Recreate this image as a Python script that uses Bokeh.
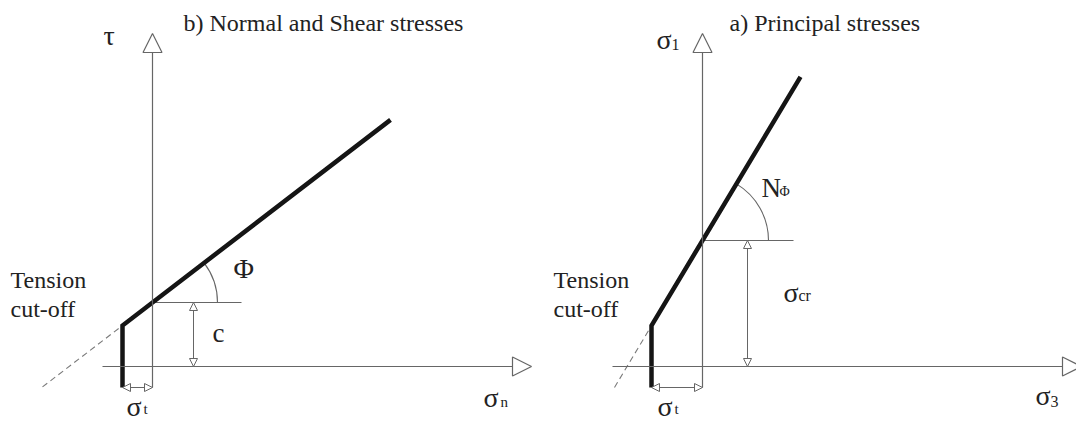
import math

from bokeh.core.properties import value
from bokeh.embed import file_html
from bokeh.layouts import row
from bokeh.models import Arrow, NormalHead, Range1d
from bokeh.plotting import figure
from bokeh.resources import INLINE

# ---------------- panel b: normal and shear stresses ----------------
nt_tension = 30.0            # tension cut-off sigma_t (left of the tau axis)
nt_cohesion = 64.0           # cohesion c
nt_phi_deg = 37.5            # friction angle phi
nt_env_x = [-30.0, 238.0]    # sigma_n extent of the failure envelope
nt_dash_x = [-110.0, -30.0]  # extrapolated envelope beyond the cut-off

# ---------------- panel a: principal stresses ----------------
ps_tension = 51.0            # tension cut-off sigma_t
ps_sigma_cr = 126.0          # uniaxial compressive strength sigma_cr
ps_n_phi = 1.67              # slope N_phi
ps_env_x = [-51.0, 98.0]
ps_dash_x = [-88.0, -51.0]

titles = ["b) Normal and Shear stresses", "a) Principal stresses"]

H = 423
ORIGIN_Y = 366
AXIS = "#666666"
INK = "#151515"
TXT = "#222222"
SERIF = value("Liberation Serif")
TEXT_LIFT = 8  # the SVG alphabetic baseline sits a little low


def make_panel(width, ox):
    p = figure(width=width, height=H,
               x_range=Range1d(-ox, width - ox),
               y_range=Range1d(-(H - ORIGIN_Y), ORIGIN_Y),
               output_backend="svg", toolbar_location=None,
               x_axis_location=None, y_axis_location=None,
               min_border=0, outline_line_color=None,
               background_fill_color="white", border_fill_color="white")
    p.grid.grid_line_color = None
    return p


def axis_arrow(p, xs, ys, xe, ye):
    head = NormalHead(size=19, fill_color="white", line_color=AXIS, line_width=1.2)
    p.add_layout(Arrow(end=head, x_start=xs, y_start=ys, x_end=xe, y_end=ye,
                       line_color=AXIS, line_width=1.2))


def dim_arrow(p, xs, ys, xe, ye):
    def head():
        return NormalHead(size=8, fill_color="white", line_color=AXIS, line_width=1)
    p.add_layout(Arrow(start=head(), end=head(), x_start=xs, y_start=ys,
                       x_end=xe, y_end=ye, line_color=AXIS, line_width=1))


def label(p, x, y, text, size, align="left"):
    p.text(x=[x], y=[y + TEXT_LIFT], text=[text], text_font=SERIF,
           text_font_size=size, text_baseline="alphabetic", text_align=align,
           text_color=TXT)


def draw_panel(p, intercept, slope, tension, env_x, dash_x, ref_len, arc_r,
               dim_x, x_axis, title, title_x):
    f = lambda s: intercept + slope * s
    bottom = -21.0

    # axes
    axis_arrow(p, x_axis[0], 0, x_axis[1], 0)
    axis_arrow(p, 0, bottom, 0, 333)

    # extrapolated envelope (dashed)
    p.line(dash_x, [f(v) for v in dash_x], line_color="#7a7a7a", line_width=1.1,
           line_dash="6 4")

    # reference horizontal at the intercept and angle arc
    p.line([0, ref_len], [intercept, intercept], line_color=AXIS, line_width=1.1)
    p.arc(x=[0], y=[intercept], radius=arc_r, start_angle=0,
          end_angle=math.atan(slope), line_color=AXIS, line_width=1.1)

    # dimension arrows
    dim_arrow(p, dim_x, 0, dim_x, intercept)
    dim_arrow(p, -tension, bottom, 0, bottom)

    # failure envelope with tension cut-off
    xs = [-tension, -tension, env_x[1]]
    ys = [bottom, f(-tension), f(env_x[1])]
    p.line(xs, ys, line_color=INK, line_width=4.5, line_join="miter")

    label(p, title_x, 336, title, "24px")


# ---------- panel b ----------
pb = make_panel(540, 152)
draw_panel(pb, nt_cohesion, math.tan(math.radians(nt_phi_deg)), nt_tension,
           nt_env_x, nt_dash_x, ref_len=89, arc_r=65, dim_x=41,
           x_axis=(-50, 379), title=titles[0], title_x=31)
label(pb, -49, 323, "τ", "28px")
label(pb, -142, 79, "Tension", "24px")
label(pb, -142, 50, "cut-off", "24px")
label(pb, 81, 90, "Φ", "28px")
label(pb, 60, 26, "c", "27px")
label(pb, 331, -39, "σ", "28px")
label(pb, 348, -43, "n", "15px")
label(pb, -26, -48, "σ", "28px")
label(pb, -9, -50, "t", "15px")

# ---------- panel a ----------
pa = make_panel(536, 162)
draw_panel(pa, ps_sigma_cr, ps_n_phi, ps_tension, ps_env_x, ps_dash_x,
           ref_len=91, arc_r=66, dim_x=45, x_axis=(-90, 379),
           title=titles[1], title_x=27)
label(pa, -46, 319, "σ", "28px")
label(pa, -31, 314, "1", "16px")
label(pa, -149, 79, "Tension", "24px")
label(pa, -149, 50, "cut-off", "24px")
label(pa, 59, 171, "N", "27px")
label(pa, 77, 167, "Φ", "14px")
label(pa, 81, 66, "σ", "28px")
label(pa, 96, 63, "cr", "16px")
label(pa, -45, -48, "σ", "28px")
label(pa, -28, -50, "t", "15px")
label(pa, 333, -37, "σ", "28px")
label(pa, 348, -43, "3", "16px")

layout = row(pb, pa)
open("out.html", "w").write(file_html(layout, INLINE))
